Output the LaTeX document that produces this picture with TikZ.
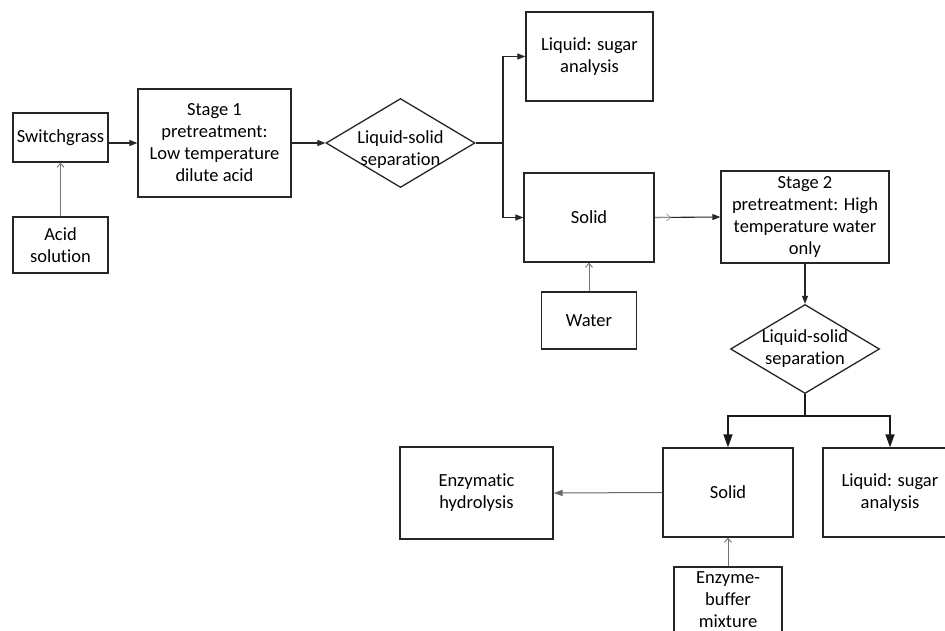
\documentclass[tikz,border=0pt]{standalone}
\usepackage{fontspec}
\setmainfont[Ligatures={NoCommon}]{Carlito}
\usetikzlibrary{shapes.geometric,arrows.meta}
\begin{document}
\begin{tikzpicture}[x=1pt,y=-1pt,
  txt/.style={font=\fontsize{18.5}{22}\selectfont, align=center},
  box/.style={txt, draw=black!85, line width=1.3pt, rectangle, inner sep=0pt},
  dia/.style={draw=black!85, line width=1.3pt, diamond, inner sep=0pt, minimum width=149pt, minimum height=89pt},
  main/.style={draw=black!85, line width=1.1pt, -{Triangle[length=8pt,width=6pt]}},
  big/.style={draw=black!90, line width=1.4pt, -{Triangle[length=13pt,width=9pt]}},
  feed/.style={draw=black!55, line width=0.9pt, -{Straight Barb[length=4pt,width=7pt]}},
  side/.style={draw=black!60, line width=1pt, -{Triangle[length=9pt,width=6pt]}},
]
\useasboundingbox (0,0) rectangle (945,631);
\clip (0,0) rectangle (945,631);
\fill[white] (0,0) rectangle (945,631);

\node[box, minimum width=95pt, minimum height=49pt] (sw) at (60.5,137.5) {Switchgrass};
\node[box, minimum width=95pt, minimum height=56pt] (acid) at (60.5,245) {Acid\\solution};
\node[box, minimum width=153pt, minimum height=108pt] (st1) at (214.5,143) {Stage 1\\pretreatment:\\Low temperature\\dilute acid};
\node[dia, label={[txt, yshift=-7pt]center:{Liquid-solid\\separation}}] (d1) at (400.5,143) {};
\node[box, minimum width=127pt, minimum height=89pt] (liq1) at (589.5,56.5) {Liquid: sugar\\analysis};
\node[box, minimum width=130pt, minimum height=89pt] (sol1) at (589,217.5) {Solid};
\node[box, minimum width=168pt, minimum height=92pt] (st2) at (805,217) {Stage 2\\pretreatment: High\\temperature water\\only};
\node[box, minimum width=95pt, minimum height=57pt] (water) at (589,320.5) {Water};
\node[dia, label={[txt]center:{Liquid-solid\\separation}}] (d2) at (805,349) {};
\node[box, minimum width=130pt, minimum height=89pt] (sol2) at (728,492.5) {Solid};
\node[box, minimum width=134pt, minimum height=89pt] (liq2) at (890,492.5) {Liquid: sugar\\analysis};
\node[box, minimum width=153pt, minimum height=92pt] (enz) at (476.5,493) {Enzymatic\\hydrolysis};
\node[box, minimum width=108pt, minimum height=66pt] (eb) at (728,600) {Enzyme-\\buffer\\mixture};

\coordinate (b1) at (503,143);
\coordinate (b2) at (805,416);
\coordinate (mk) at (671,217.5);

\draw[feed] (acid.north) -- (sw.south);
\draw[main] (sw.east |- st1.west) -- (st1.west);
\draw[main] (st1.east) -- (d1.west);
\draw[main] (d1.east) -- (b1) |- (liq1.west);
\draw[main] (b1) |- (sol1.west);
\draw[main] (sol1.east) -- (st2.west);
\draw[feed, draw=black!45, line width=0.6pt] (sol1.east) -- (mk);
\draw[feed] (water.north) -- (sol1.south);
\draw[main] (st2.south) -- (d2.north);
\draw[big] (d2.south) -- (b2) -| (sol2.north);
\draw[big] (b2) -| (liq2.north);
\draw[side] (sol2.west) -- (enz.east);
\draw[feed] (eb.north) -- (sol2.south);
\end{tikzpicture}
\end{document}
